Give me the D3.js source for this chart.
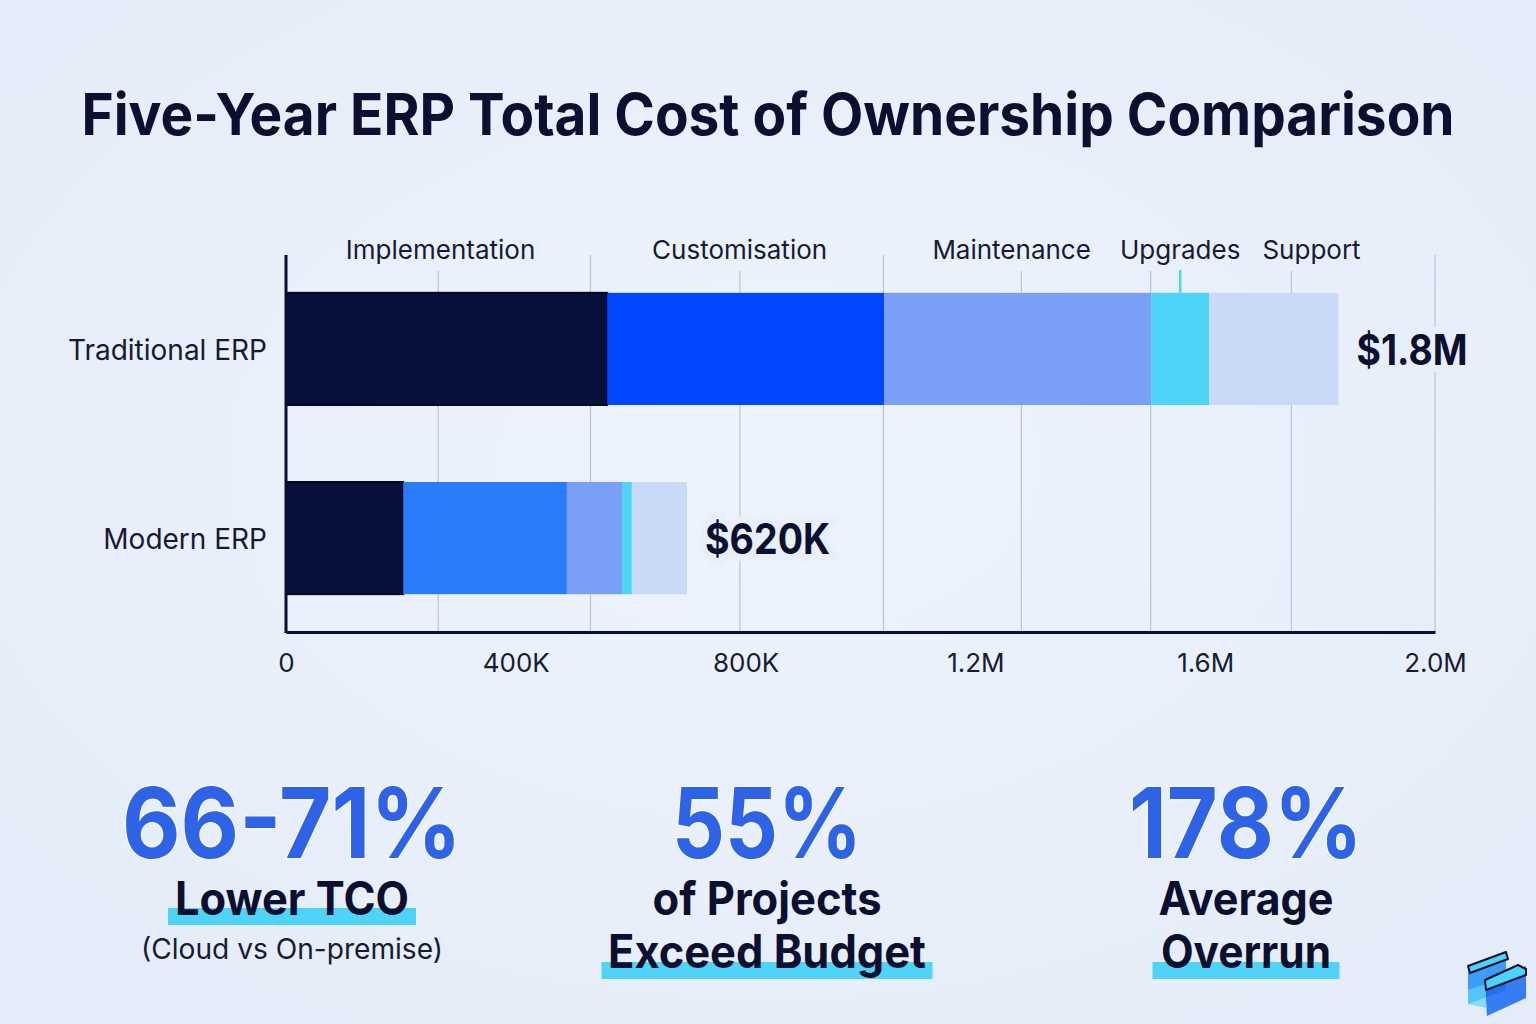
<!DOCTYPE html>
<html>
<head>
<meta charset="utf-8">
<script src="https://cdn.jsdelivr.net/npm/d3@7"></script>
<style>
  html, body { margin: 0; padding: 0; background: #e7effb; }
  svg { display: block; font-family: Inter, "Noto Sans", sans-serif; }
</style>
</head>
<body>
<svg id="chart"></svg>
<script>
// data
const rows = ['Traditional ERP', 'Modern ERP'];
const segments = ['Implementation', 'Customisation', 'Maintenance', 'Upgrades', 'Support'];
const traditionalCosts = [559000, 482000, 465000, 101000, 225000];
const modernCosts = [204000, 285000, 96000, 17000, 96000];
const totalLabels = ['$1.8M', '$620K'];
const tickValues = [0, 400000, 800000, 1200000, 1600000, 2000000];
const tickLabels = ['0', '400K', '800K', '1.2M', '1.6M', '2.0M'];
const gridValues = [265000, 530000, 790000, 1040000, 1280000, 1505000, 1750000, 2000000];
const gridTall = [false, true, false, true, false, false, false, true];

const statValues = ['66-71%', '55%', '178%'];
const statLines = [['Lower TCO'], ['of Projects', 'Exceed Budget'], ['Average', 'Overrun']];
const statNotes = ['(Cloud vs On-premise)', '', ''];

// palette
const traditionalColors = ['#06103a', '#0047ff', '#7a9ff7', '#4dd4f7', '#c9daf8'];
const modernColors = ['#06103a', '#2b7cfb', '#7a9ff7', '#4dd4f7', '#c9daf8'];
const navy = '#0b1030';
const bg = '#e7effb';

const W = 1536, H = 1024;
const svg = d3.select('#chart').attr('width', W).attr('height', H);

// background
const defs = svg.append('defs');
const grad = defs.append('radialGradient').attr('id', 'bg').attr('cx', '50%').attr('cy', '45%').attr('r', '70%');
grad.append('stop').attr('offset', '0%').attr('stop-color', '#eef4fd');
grad.append('stop').attr('offset', '100%').attr('stop-color', '#e4ecf9');
svg.append('rect').attr('width', W).attr('height', H).attr('fill', 'url(#bg)');

// stretch or squeeze a text to a measured width
function fit(sel, w) {
  sel.each(function () {
    const l = this.getComputedTextLength();
    if (Math.abs(l - w) > 1) {
      d3.select(this).attr('textLength', w).attr('lengthAdjust', 'spacingAndGlyphs');
    }
  });
}

// title
svg.append('text')
  .attr('x', 768).attr('y', 135)
  .attr('text-anchor', 'middle')
  .attr('font-size', 58).attr('font-weight', 700)
  .attr('fill', navy)
  .text('Five-Year ERP Total Cost of Ownership Comparison')
  .call(fit, 1373);

// scales
const x = d3.scaleLinear().domain([0, 2000000]).range([286, 1435]);
const y = d3.scaleBand().domain(rows).range([255, 632]).paddingInner(0.407).paddingOuter(0.2);

// gridlines
svg.append('g').selectAll('line')
  .data(gridValues)
  .enter().append('line')
  .attr('x1', d => x(d)).attr('x2', d => x(d))
  .attr('y1', (d, i) => gridTall[i] ? 255 : 271)
  .attr('y2', 632)
  .attr('stroke', '#b7c3d9').attr('stroke-width', 1.2);

// stacked bars
const rowData = [traditionalCosts, modernCosts];
const rowColors = [traditionalColors, modernColors];
const stacked = rows.map((r, ri) => {
  let acc = 0;
  return rowData[ri].map((v, si) => {
    const s = { row: r, seg: segments[si], x0: acc, x1: acc + v, color: rowColors[ri][si] };
    acc += v;
    return s;
  });
});

svg.append('g').selectAll('rect')
  .data(stacked.flat())
  .enter().append('rect')
  .attr('x', d => x(d.x0))
  .attr('y', d => y(d.row))
  .attr('width', d => x(d.x1) - x(d.x0))
  .attr('height', y.bandwidth())
  .attr('fill', d => d.color)
  .attr('stroke', d => d.seg === 'Implementation' ? '#020722' : 'none')
  .attr('stroke-width', 2);

// segment labels above the traditional bar, nudged apart when they collide
const segLabels = svg.append('g').selectAll('text')
  .data(stacked[0])
  .enter().append('text')
  .attr('x', d => x((d.x0 + d.x1) / 2) - (d.seg === 'Upgrades' ? 0 : 6))
  .attr('y', 259)
  .attr('text-anchor', 'middle')
  .attr('font-size', 26)
  .attr('fill', '#161b33')
  .text(d => d.seg);

let prevRight = -Infinity;
segLabels.each(function (d) {
  const w = this.getComputedTextLength();
  let cx = +d3.select(this).attr('x');
  if (cx - w / 2 < prevRight + 22) cx = prevRight + 22 + w / 2;
  d3.select(this).attr('x', cx);
  prevRight = cx + w / 2;
});

// small connector for the narrow Upgrades segment
const upg = stacked[0][3];
svg.append('line')
  .attr('x1', x((upg.x0 + upg.x1) / 2)).attr('x2', x((upg.x0 + upg.x1) / 2))
  .attr('y1', 270).attr('y2', y(rows[0]))
  .attr('stroke', '#4dd4f7').attr('stroke-width', 2.5);

// row labels
svg.append('g').selectAll('text')
  .data(rows)
  .enter().append('text')
  .attr('x', 267)
  .attr('y', d => y(d) + y.bandwidth() / 2 + 11)
  .attr('text-anchor', 'end')
  .attr('font-size', 28)
  .attr('fill', '#161b33')
  .text(d => d);

// totals
svg.append('g').selectAll('text')
  .data(rows)
  .enter().append('text')
  .attr('x', (d, i) => x(d3.sum(rowData[i])) + 18)
  .attr('y', d => y(d) + y.bandwidth() / 2 + 16)
  .attr('font-size', 42).attr('font-weight', 700)
  .attr('fill', navy)
  .attr('stroke', bg).attr('stroke-width', 14).attr('paint-order', 'stroke')
  .text((d, i) => totalLabels[i])
  .each(function (d, i) { d3.select(this).call(fit, i === 0 ? 111 : 125); });

// axes
const xAxis = d3.axisBottom(x)
  .tickValues(tickValues)
  .tickFormat((d, i) => tickLabels[i])
  .tickSize(0).tickSizeOuter(0).tickPadding(22);

const gx = svg.append('g').attr('transform', 'translate(0,632)').call(xAxis);
gx.select('.domain').attr('stroke', navy).attr('stroke-width', 3);
gx.selectAll('text').attr('font-size', 26).attr('fill', '#161b33').attr('font-family', 'Inter, sans-serif');

svg.append('line')
  .attr('x1', 286).attr('x2', 286)
  .attr('y1', 255).attr('y2', 633)
  .attr('stroke', navy).attr('stroke-width', 3);

// key figures
const statX = [292, 767, 1246];
const valueWidths = [340, 190, 234];
const lineWidths = [[234], [229, 318], [175, 170]];
const hlWidths = [248, 331, 187];

const stats = svg.append('g').selectAll('g')
  .data(statValues)
  .enter().append('g')
  .attr('transform', (d, i) => `translate(${statX[i]},0)`);

stats.each(function (d, i) {
  const g = d3.select(this);
  const lines = statLines[i];
  const hlY = lines.length === 1 ? 908 : 962;
  g.append('rect')
    .attr('x', -hlWidths[i] / 2).attr('y', hlY)
    .attr('width', hlWidths[i]).attr('height', 17)
    .attr('fill', '#4fd3f7');

  g.append('text')
    .attr('y', 858)
    .attr('text-anchor', 'middle')
    .attr('font-size', 98).attr('font-weight', 700)
    .attr('fill', '#2d63e4')
    .attr('stroke', '#f4f8ff').attr('stroke-width', 3).attr('paint-order', 'stroke')
    .text(d)
    .call(fit, valueWidths[i]);

  lines.forEach((t, li) => {
    g.append('text')
      .attr('y', 915 + li * 53)
      .attr('text-anchor', 'middle')
      .attr('font-size', 46).attr('font-weight', 700)
      .attr('fill', navy)
      .text(t)
      .call(fit, lineWidths[i][li]);
  });

  if (statNotes[i]) {
    g.append('text')
      .attr('y', 959)
      .attr('text-anchor', 'middle')
      .attr('font-size', 28)
      .attr('fill', '#161b33')
      .text(statNotes[i])
      .call(fit, 302);
  }
});

// corner logo: two offset translucent trays
const logo = svg.append('g');
logo.append('path').attr('d', 'M1468,968 L1506,953 L1506,990 L1468,1004 Z').attr('fill', '#1f8ff9').attr('opacity', 0.85);
logo.append('path').attr('d', 'M1485,983 L1526,966 L1526,998 L1487,1016 Z').attr('fill', '#1a68f2').attr('opacity', 0.85);
logo.append('path').attr('d', 'M1468,990 L1486,984 L1486,1008 L1468,1004 Z').attr('fill', '#5fd6fa').attr('opacity', 0.7);
logo.append('path').attr('d', 'M1468,966 L1506,952 L1508,959 L1470,973 Z').attr('fill', '#4ad4f8').attr('stroke', navy).attr('stroke-width', 2).attr('stroke-linejoin', 'round');
logo.append('path').attr('d', 'M1485,980 L1518,965 L1526,969 L1526,975 L1486,990 Z').attr('fill', '#4ad4f8').attr('stroke', navy).attr('stroke-width', 2).attr('stroke-linejoin', 'round');
</script>
</body>
</html>
